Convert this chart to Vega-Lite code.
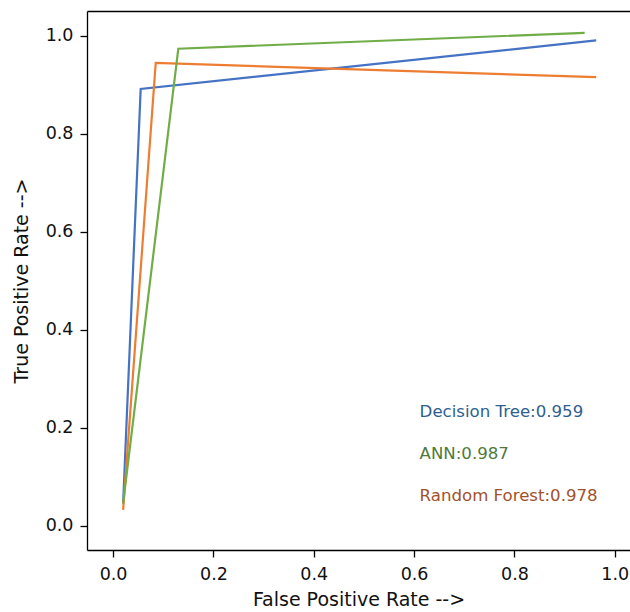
{
  "$schema": "https://vega.github.io/schema/vega-lite/v6.json",
  "width": 543,
  "height": 539,
  "autosize": {"type": "none"},
  "padding": {"left": 87, "top": 11, "right": 0, "bottom": 62},
  "background": "white",
  "config": {
    "view": {"stroke": null},
    "axis": {
      "grid": false,
      "domainColor": "black",
      "domainWidth": 1.3,
      "tickColor": "black",
      "tickWidth": 1.3,
      "tickSize": 7,
      "labelFont": "DejaVu Sans",
      "labelFontSize": 17.5,
      "labelColor": "#111111",
      "titleFont": "DejaVu Sans",
      "titleFontSize": 19,
      "titleFontWeight": "normal",
      "titleColor": "#111111"
    }
  },
  "datasets": {
    "roc": [
      {"model": "Decision Tree", "step": 0, "fpr": 0.02, "tpr": 0.045},
      {"model": "Decision Tree", "step": 1, "fpr": 0.055, "tpr": 0.891},
      {"model": "Decision Tree", "step": 2, "fpr": 0.963, "tpr": 0.99},
      {"model": "Random Forest", "step": 0, "fpr": 0.02, "tpr": 0.032},
      {"model": "Random Forest", "step": 1, "fpr": 0.085, "tpr": 0.944},
      {"model": "Random Forest", "step": 2, "fpr": 0.963, "tpr": 0.915},
      {"model": "ANN", "step": 0, "fpr": 0.02, "tpr": 0.045},
      {"model": "ANN", "step": 1, "fpr": 0.13, "tpr": 0.973},
      {"model": "ANN", "step": 2, "fpr": 0.94, "tpr": 1.0055}
    ],
    "labels": [
      {"model": "Decision Tree", "label": "Decision Tree:0.959", "fpr": 0.611, "tpr": 0.221},
      {"model": "ANN", "label": "ANN:0.987", "fpr": 0.611, "tpr": 0.136},
      {"model": "Random Forest", "label": "Random Forest:0.978", "fpr": 0.611, "tpr": 0.049}
    ]
  },
  "layer": [
    {
      "data": {"name": "roc"},
      "mark": {"type": "line", "strokeWidth": 2.2},
      "encoding": {
        "x": {
          "field": "fpr", "type": "quantitative",
          "scale": {"domain": [-0.052, 1.0304], "nice": false, "zero": false},
          "axis": {"values": [0, 0.2, 0.4, 0.6, 0.8, 1.0], "format": ".1f", "title": "False Positive Rate -->", "labelPadding": 8, "titlePadding": 8}
        },
        "y": {
          "field": "tpr", "type": "quantitative",
          "scale": {"domain": [-0.05, 1.05], "nice": false, "zero": false},
          "axis": {"values": [0, 0.2, 0.4, 0.6, 0.8, 1.0], "format": ".1f", "title": "True Positive Rate -->", "labelPadding": 7, "titlePadding": 14}
        },
        "color": {
          "field": "model", "type": "nominal",
          "scale": {"domain": ["Decision Tree", "Random Forest", "ANN"], "range": ["#4472c4", "#ed7d31", "#70ad47"]},
          "legend": null
        },
        "order": {"field": "step", "type": "quantitative"}
      }
    },
    {
      "data": {"name": "labels"},
      "mark": {"type": "text", "align": "left", "baseline": "alphabetic", "font": "DejaVu Sans", "fontSize": 16.6},
      "encoding": {
        "x": {
          "field": "fpr", "type": "quantitative",
          "axis": {"orient": "top", "labels": false, "ticks": false, "title": null, "domain": true}
        },
        "y": {"field": "tpr", "type": "quantitative"},
        "text": {"field": "label"},
        "color": {
          "field": "model", "type": "nominal",
          "scale": {"domain": ["Decision Tree", "ANN", "Random Forest"], "range": ["#2f5f8f", "#4f7a3a", "#a0522d"]},
          "legend": null
        }
      }
    }
  ],
  "resolve": {"axis": {"x": "independent"}, "scale": {"color": "independent"}}
}
